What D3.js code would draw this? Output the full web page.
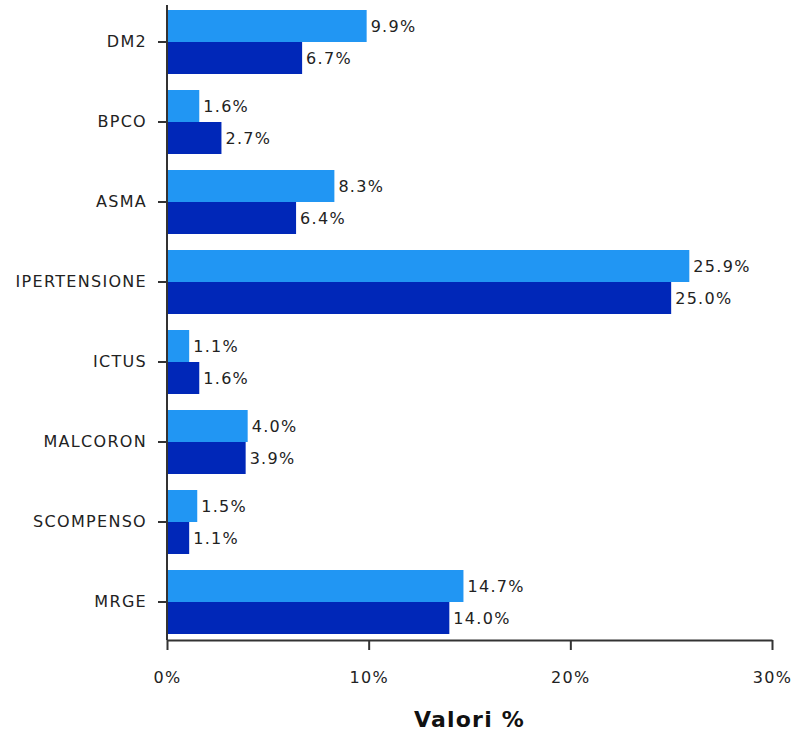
<!DOCTYPE html>
<html>
<head>
<meta charset="utf-8">
<script src="https://cdn.jsdelivr.net/npm/d3@7"></script>
<style>
  body { margin: 0; background: #fff; }
  text { font-family: "DejaVu Sans", Verdana, sans-serif; }
</style>
</head>
<body>
<script>
  //data
  var categories = ["DM2", "BPCO", "ASMA", "IPERTENSIONE", "ICTUS", "MALCORON", "SCOMPENSO", "MRGE"];
  var serieA = [9.9, 1.6, 8.3, 25.9, 1.1, 4.0, 1.5, 14.7]; //light blue
  var serieB = [6.7, 2.7, 6.4, 25.0, 1.6, 3.9, 1.1, 14.0]; //dark blue
  var xTicks = [0, 10, 20, 30];

  var w = 792, h = 734;
  //plot area (note: "top" is reserved on window, so use plot* names)
  var plotLeft = 167, plotRight = 772, plotTop = 2, plotBottom = 642;
  var fontSize = 16, spacing = "1.3px";

  var svg = d3.select("body").append("svg")
      .attr("width", w)
      .attr("height", h);

  //SCALES
  var x = d3.scaleLinear().domain([0, 30]).range([plotLeft, plotRight]);
  var y = d3.scaleBand().domain(categories).range([plotTop, plotBottom])
      .paddingInner(0.2).paddingOuter(0.1);
  var sub = d3.scaleBand().domain([0, 1]).range([0, y.bandwidth()]);

  var rows = categories.map(function(c, i) {
      return { cat: c, vals: [serieA[i], serieB[i]] };
  });
  var colors = ["#2196f3", "#0027b8"];

  var g = svg.selectAll("g.row").data(rows).enter()
      .append("g").attr("class", "row")
      .attr("transform", function(d) { return "translate(0," + y(d.cat) + ")"; });

  g.selectAll("rect").data(function(d) { return d.vals; }).enter()
      .append("rect")
      .attr("x", x(0))
      .attr("y", function(d, i) { return sub(i); })
      .attr("width", function(d) { return x(d) - x(0); })
      .attr("height", sub.bandwidth())
      .attr("fill", function(d, i) { return colors[i]; });

  //value labels
  g.selectAll("text.val").data(function(d) { return d.vals; }).enter()
      .append("text").attr("class", "val")
      .attr("x", function(d) { return x(d) + 4; })
      .attr("y", function(d, i) { return sub(i) + sub.bandwidth() / 2; })
      .attr("dy", "0.35em")
      .attr("font-size", fontSize)
      .style("letter-spacing", spacing)
      .attr("fill", "#222")
      .text(function(d) { return d.toFixed(1) + "%"; });

  //AXES
  var yAxis = svg.append("g")
      .attr("transform", "translate(" + plotLeft + ",0)")
      .call(d3.axisLeft(y).tickSize(9).tickPadding(11).tickSizeOuter(0));
  yAxis.select(".domain").attr("d", "M0,5V640").attr("stroke", "#333").attr("stroke-width", 2);
  yAxis.selectAll(".tick line").attr("stroke", "#333").attr("stroke-width", 2);
  yAxis.selectAll(".tick text").attr("font-size", fontSize).attr("fill", "#222")
      .style("letter-spacing", spacing)
      .style("font-family", "DejaVu Sans, sans-serif");

  var xAxis = svg.append("g")
      .attr("transform", "translate(0,640)")
      .call(d3.axisBottom(x).tickValues(xTicks).tickSize(10).tickPadding(22).tickSizeOuter(0)
          .tickFormat(function(d) { return d + "%"; }));
  xAxis.select(".domain").attr("stroke", "#333").attr("stroke-width", 2);
  xAxis.selectAll(".tick line").attr("stroke", "#333").attr("stroke-width", 2);
  xAxis.selectAll(".tick text").attr("font-size", fontSize).attr("fill", "#222")
      .style("letter-spacing", spacing)
      .style("font-family", "DejaVu Sans, sans-serif");

  //title
  svg.append("text")
      .attr("x", (plotLeft + plotRight) / 2)
      .attr("y", 727)
      .attr("text-anchor", "middle")
      .attr("font-size", 22)
      .attr("font-weight", "bold")
      .style("letter-spacing", "1.2px")
      .attr("fill", "#111")
      .text("Valori %");
</script>
</body>
</html>
